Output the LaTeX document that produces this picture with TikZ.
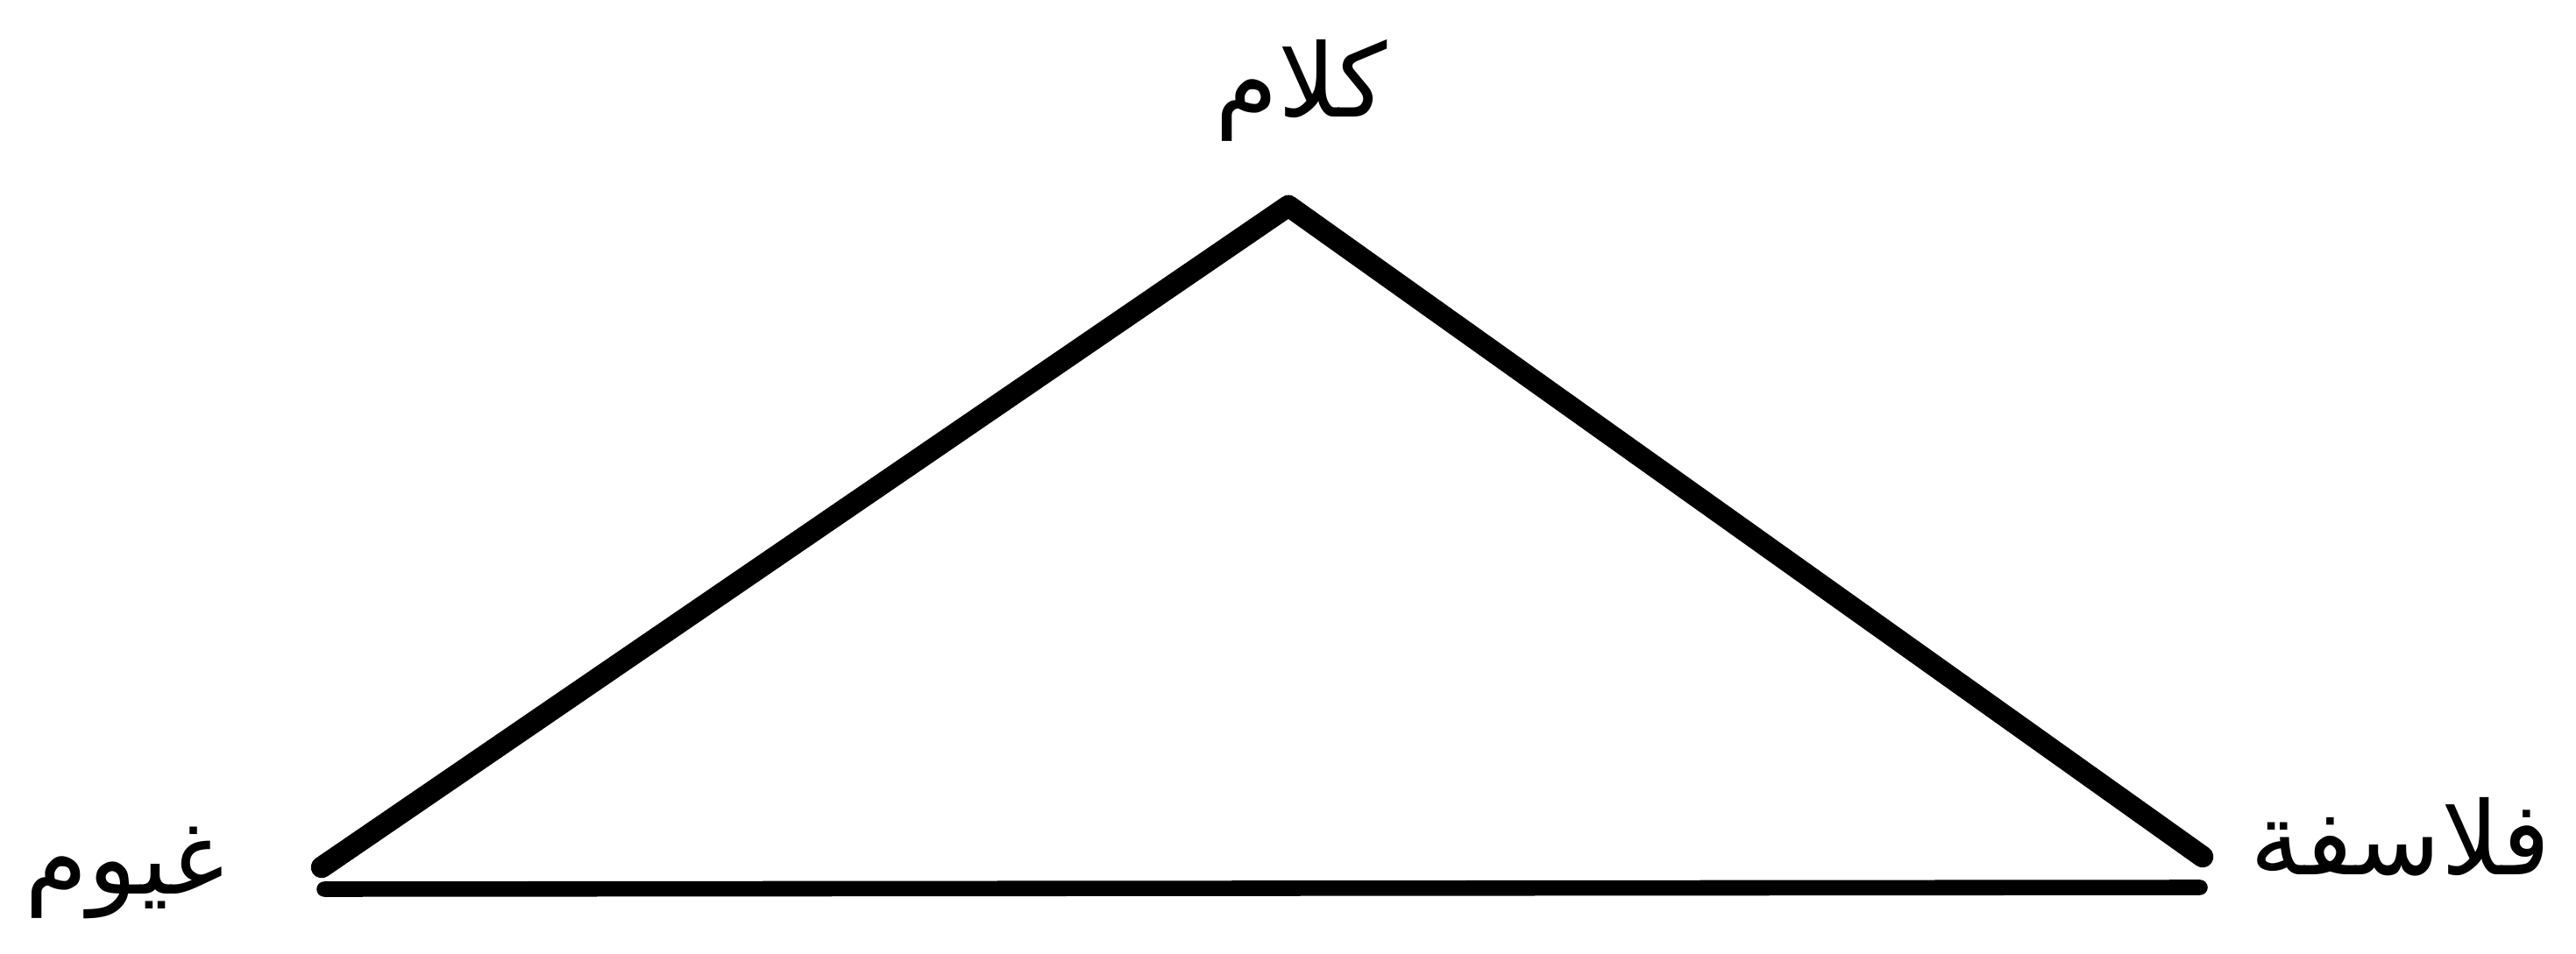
\documentclass[tikz,border=0pt]{standalone}
\usepackage{fontspec}
\newfontfamily\arabicfont[Script=Arabic]{DejaVu Sans}
\TeXXeTstate=1
\begin{document}
\begin{tikzpicture}[line width=7pt, line cap=round, line join=round, every node/.style={inner sep=0pt, font=\arabicfont\fontsize{33}{38}\selectfont}]
	\useasboundingbox (0,0) rectangle (29.39,10.88);
	\coordinate (apex) at (14.70,8.53);
	\coordinate (left) at (3.67,0.98);
	\coordinate (right) at (25.13,1.10);
	\coordinate (baseL) at (3.70,0.73);
	\coordinate (baseR) at (25.10,0.75);
	\draw (left)--(apex)--(right);
	\draw[line width=5pt] (baseL)--(baseR);
	\node (kalam) at (14.85,9.85) {\beginR كلام\endR};
	\node[anchor=east] (ghuyum) at (2.68,0.92) {\beginR غيوم\endR};
	\node[anchor=east] (falasifa) at (29.22,1.33) {\beginR فلاسفة\endR};
\end{tikzpicture}
\end{document}
